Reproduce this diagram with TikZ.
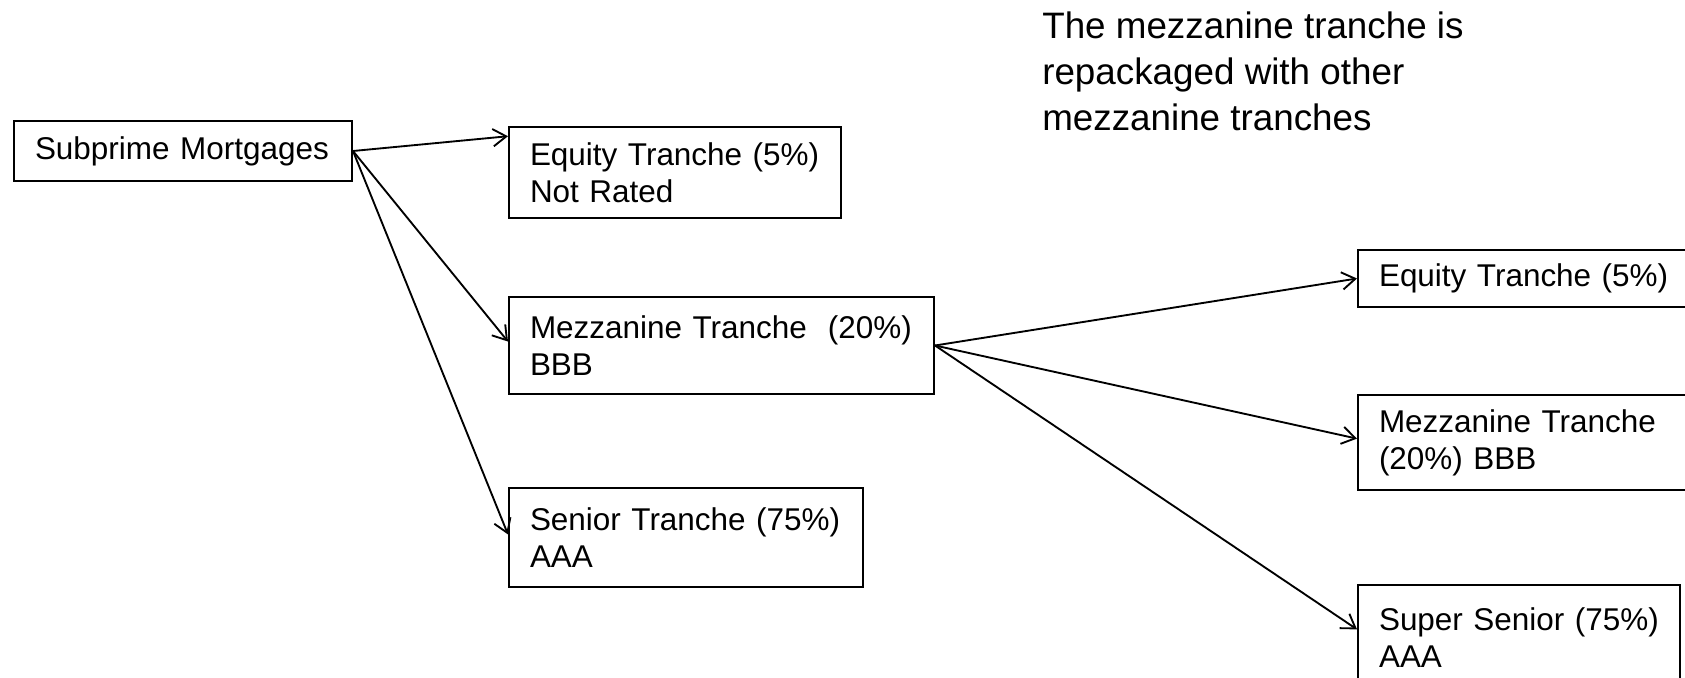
\documentclass[tikz,border=0pt]{standalone}
\usepackage{fontspec}
\setmainfont{Liberation Sans}
\usetikzlibrary{arrows.meta,calc}
\begin{document}
\begin{tikzpicture}[x=0.75pt,y=-0.75pt,
  box/.style={draw, line width=1.5pt, anchor=north west, align=left,
    inner xsep=15.75pt, inner ysep=0pt,
    font=\fontsize{23.6}{27.75}\selectfont},
  conn/.style={line width=1.4pt, -{Straight Barb[length=10pt,width=13pt]}},
  note/.style={anchor=north west, align=left, inner sep=0pt,
    font=\fontsize{27.6}{34.4}\selectfont}]
\useasboundingbox (0,0) rectangle (1685,678);

\node[box, minimum width=253.5pt, minimum height=45pt, text width=222pt] (sub) at (13,120) {Subprime Mortgages};
\node[box, minimum width=249pt, minimum height=68.25pt, text width=217.5pt] (eq) at (508,126) {Equity Tranche (5\%)\\Not Rated};
\node[box, minimum width=318.75pt, minimum height=72.75pt, text width=287.25pt] (mez) at (508,296) {Mezzanine Tranche~~(20\%)\\BBB};
\node[box, minimum width=265.5pt, minimum height=74.25pt, text width=234pt] (sen) at (508,487) {Senior Tranche (75\%)\\AAA};

\node[box, minimum width=261.5pt, minimum height=42.75pt, text width=230pt] (eqb) at (1357,249) {Equity Tranche (5\%)};
\node[box, minimum width=261.5pt, minimum height=71.25pt, text width=230pt] (mezb) at (1357,394) {Mezzanine Tranche\\(20\%) BBB};
\node[box, minimum width=241.5pt, minimum height=79.5pt, text width=210pt] (sup) at (1357,584) {Super Senior (75\%)\\AAA};

\node[note] (txt) at (1042,12) {The mezzanine tranche is\\repackaged with other\\mezzanine tranches};

\draw[conn] (sub.east) -- ($(eq.north west)!0.11!(eq.south west)$);
\draw[conn] (sub.east) -- ($(mez.north west)!0.46!(mez.south west)$);
\draw[conn] (sub.east) -- ($(sen.north west)!0.47!(sen.south west)$);
\draw[conn] (mez.east) -- (eqb.west);
\draw[conn] (mez.east) -- ($(mezb.north west)!0.46!(mezb.south west)$);
\draw[conn] (mez.east) -- ($(sup.north west)!0.42!(sup.south west)$);
\end{tikzpicture}
\end{document}
